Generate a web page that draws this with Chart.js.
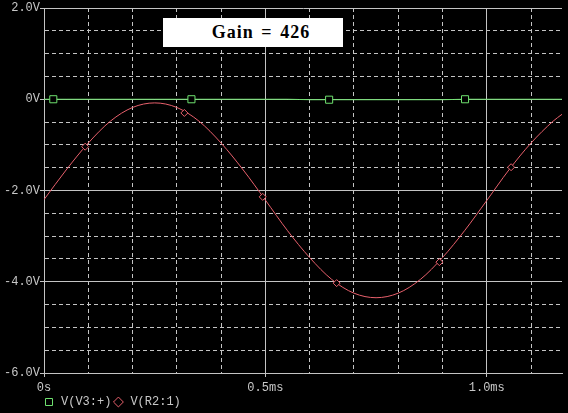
<!DOCTYPE html>
<html><head><meta charset="utf-8">
<script src="https://cdn.jsdelivr.net/npm/chart.js@4.4.0/dist/chart.umd.min.js"></script>
<style>
html,body{margin:0;padding:0;background:#000;}
#wrap{position:relative;width:568px;height:413px;background:#000;overflow:hidden}
#gain{position:absolute;left:163px;top:18px;width:180px;height:29px;box-sizing:border-box;padding-left:16px;background:#fff;color:#000;font:bold 18px "Liberation Serif",serif;letter-spacing:1px;word-spacing:2px;display:flex;align-items:center;justify-content:center;white-space:pre;}
</style></head><body>
<div id="wrap"><canvas id="c" width="568" height="413"></canvas><div id="gain">Gain = 426</div></div>
<script>
// time axis (ms) samples for the traces
const timeMs = [0,0.05,0.10,0.15,0.20,0.25,0.30,0.35,0.40,0.45,0.50,0.55,0.60,0.65,0.70,0.75,0.80,0.85,0.90,0.95,1.00,1.05,1.10,1.15,1.17];
// V(R2:1) output (V)
const outputV = [-2.20,-1.55,-0.96,-0.48,-0.18,-0.08,-0.18,-0.48,-0.96,-1.55,-2.21,-2.88,-3.47,-3.95,-4.25,-4.35,-4.25,-3.95,-3.47,-2.88,-2.22,-1.55,-0.96,-0.48,-0.33];
// V(V3:+) input (V)
const inputV = [0,0,0,0,0,0,0,0,0,0,0,0,-0.01,-0.01,-0.01,-0.01,-0.01,-0.01,-0.01,0,0,0,0,0,0];
// marker symbols
const inMarkT = [0.021,0.333,0.644,0.951];
const inMarkV = [0,0,-0.01,0];
const outMarkT = [0.093,0.317,0.494,0.661,0.893,1.055];
const outMarkV = [-1.04,-0.30,-2.14,-4.03,-3.57,-1.49];
// grid and tick labels
const xGridMs = [0,0.1,0.2,0.3,0.4,0.5,0.6,0.7,0.8,0.9,1.0,1.1];
const xTickValues = [0,0.5,1.0];
const xTickLabels = ['0s','0.5ms','1.0ms'];
const yGridV = [-6,-5.5,-5,-4.5,-4,-3.5,-3,-2.5,-2,-1.5,-1,-0.5,0,0.5,1,1.5,2];
const yTickValues = [2,0,-2,-4,-6];
const yTickLabels = ['2.0V','0V','-2.0V','-4.0V','-6.0V'];
const seriesNames = ['V(V3:+)','V(R2:1)'];

const GREEN = '#6ee06e', RED = '#e8606c', GRID = '#c4c4c4', TXT = '#c8c8c8';
const near = (a,b)=>Math.abs(a-b)<1e-6;
const idxOf = (arr,v)=>arr.findIndex(a=>near(a,v));
const pts = (xs,ys)=>xs.map((x,i)=>({x:x,y:ys[i]}));
const tickFont = {family:'"Liberation Mono", monospace', size:12};

function gridOpts(majors){
  return {
    color: GRID, lineWidth: 1, tickLength: 4, drawTicks: true,
    tickColor: c => (c.tick && idxOf(majors,c.tick.value)>=0) ? GRID : 'rgba(0,0,0,0)'
  };
}
function borderOpts(majors){
  return {
    display: true, color: GRID, width: 1,
    dash: c => (c.tick && idxOf(majors,c.tick.value)<0) ? [4,3] : []
  };
}

const legendShift = {
  id: 'legendShift',
  afterLayout(chart){
    const lg = chart.legend;
    if (lg){ lg.left += 38; lg.right += 38; }
  }
};

new Chart(document.getElementById('c'), {
  type: 'scatter',
  plugins: [legendShift],
  data: {
    datasets: [
      {label: seriesNames[0], data: pts(timeMs,inputV), showLine:true, borderColor:GREEN, borderWidth:1, pointRadius:0, cubicInterpolationMode:'monotone', order:3},
      {label: seriesNames[1], data: pts(timeMs,outputV), showLine:true, borderColor:RED, borderWidth:1, pointRadius:0, cubicInterpolationMode:'monotone', order:2},
      {label: 'm1', data: pts(inMarkT,inMarkV), showLine:false, pointStyle:'rect', pointRadius:5, borderColor:GREEN, backgroundColor:'#000', pointBorderWidth:1, order:1},
      {label: 'm2', data: pts(outMarkT,outMarkV), showLine:false, pointStyle:'rectRot', pointRadius:3.5, borderColor:RED, backgroundColor:'#000', pointBorderWidth:1, order:0}
    ]
  },
  options: {
    responsive: false, animation: false,
    layout: {padding: {left: 4, right: 0, top: 8, bottom: -5}},
    plugins: {
      tooltip: {enabled:false},
      legend: {
        position:'bottom', align:'start',
        labels: {
          color: TXT, font: tickFont, usePointStyle:true, boxHeight:7, padding:1,
          generateLabels: () => [
            {text: seriesNames[0], fillStyle:'#000', strokeStyle:GREEN, lineWidth:1, pointStyle:'rect', fontColor:TXT, hidden:false, datasetIndex:0},
            {text: seriesNames[1], fillStyle:'#000', strokeStyle:RED, lineWidth:1, pointStyle:'rectRot', fontColor:TXT, hidden:false, datasetIndex:1}
          ]
        }
      }
    },
    scales: {
      x: {
        type:'linear', min:0, max:1.17,
        afterBuildTicks: s => { s.ticks = xGridMs.map(v=>({value:v})); },
        afterFit: s => { s.height = 22; s.paddingRight = 0; s.paddingLeft = 0; },
        grid: gridOpts(xTickValues), border: borderOpts(xTickValues),
        ticks: {autoSkip:false, maxRotation:0, padding:3.5, color:TXT, font:tickFont,
          callback: v => { const i = idxOf(xTickValues,v); return i>=0 ? xTickLabels[i] : ''; }}
      },
      y: {
        type:'linear', min:-6, max:2,
        afterBuildTicks: s => { s.ticks = yGridV.map(v=>({value:v})); },
        grid: gridOpts(yTickValues), border: borderOpts(yTickValues),
        ticks: {autoSkip:false, padding:0, color:TXT, font:tickFont,
          callback: v => { const i = idxOf(yTickValues,v); return i>=0 ? yTickLabels[i] : ''; }}
      }
    }
  }
});
</script>
</body></html>
